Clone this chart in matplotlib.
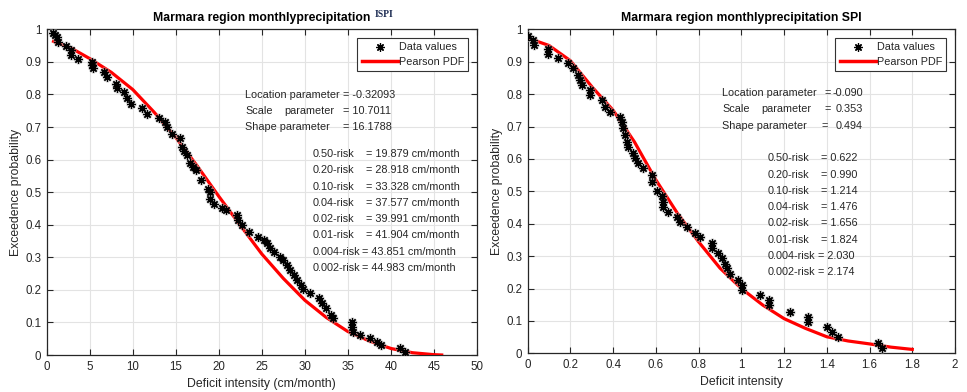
import matplotlib
matplotlib.use("Agg")
import matplotlib.pyplot as plt
from matplotlib.lines import Line2D

# ---------------- data: left panel (ISPI) ----------------
ispi_x = [0.78, 1.0, 1.24, 1.3, 2.2, 2.8, 2.86, 3.6, 5.3, 5.3, 5.35, 6.65, 7.04, 8.0, 8.2,
          8.97, 9.36, 9.8, 11.1, 11.7, 13.1, 13.8, 14.0, 14.6, 15.5, 15.7, 16.0, 16.3, 16.7,
          17.0, 17.3, 17.9, 18.8, 19.0, 19.0, 19.4, 20.4, 20.8, 22.1, 22.2, 22.7, 23.5, 24.6,
          25.2, 25.6, 26.0, 26.4, 27.1, 27.5, 27.9, 28.3, 28.7, 29.1, 29.5, 29.8, 30.6, 31.6,
          32.0, 32.4, 33.0, 33.3, 35.5, 35.5, 35.6, 36.4, 37.6, 38.4, 38.9, 41.1, 41.6]
ispi_y = [0.99, 0.984, 0.976, 0.96, 0.95, 0.935, 0.922, 0.91, 0.90, 0.89, 0.88, 0.87, 0.854,
          0.833, 0.82, 0.807, 0.79, 0.772, 0.757, 0.741, 0.729, 0.716, 0.70, 0.68, 0.665, 0.64,
          0.627, 0.613, 0.588, 0.578, 0.567, 0.537, 0.511, 0.501, 0.48, 0.465, 0.45, 0.445,
          0.429, 0.414, 0.399, 0.378, 0.363, 0.353, 0.343, 0.327, 0.317, 0.302, 0.291, 0.276,
          0.261, 0.245, 0.23, 0.215, 0.204, 0.189, 0.174, 0.159, 0.143, 0.123, 0.113, 0.102,
          0.087, 0.072, 0.061, 0.051, 0.041, 0.031, 0.02, 0.01]
ispi_fit_x = [0.8, 3, 5, 7.5, 10, 12.5, 15, 17.5, 20, 22.5, 25, 27.5, 30, 32.5, 35, 37.5, 40,
              42.5, 45, 45.9]
ispi_fit_y = [0.963, 0.94, 0.91, 0.868, 0.815, 0.745, 0.668, 0.58, 0.487, 0.398, 0.31, 0.235,
              0.168, 0.115, 0.072, 0.043, 0.02, 0.007, 0.001, 0.0]

# ---------------- data: right panel (SPI) ----------------
spi_x = [0.0, 0.027, 0.031, 0.096, 0.096, 0.143, 0.19, 0.213, 0.237, 0.245, 0.253, 0.29, 0.29,
         0.346, 0.362, 0.385, 0.432, 0.44, 0.448, 0.455, 0.463, 0.471, 0.494, 0.502, 0.518,
         0.541, 0.58, 0.58, 0.604, 0.627, 0.632, 0.635, 0.658, 0.697, 0.713, 0.744, 0.783,
         0.807, 0.861, 0.861, 0.892, 0.908, 0.924, 0.932, 0.947, 0.986, 1.002, 1.002, 1.088,
         1.131, 1.131, 1.228, 1.314, 1.314, 1.403, 1.423, 1.454, 1.641, 1.657]
spi_y = [0.98, 0.966, 0.953, 0.94, 0.925, 0.91, 0.895, 0.88, 0.859, 0.844, 0.828, 0.812, 0.797,
         0.782, 0.761, 0.746, 0.73, 0.715, 0.694, 0.674, 0.653, 0.638, 0.617, 0.602, 0.586,
         0.571, 0.55, 0.53, 0.501, 0.484, 0.468, 0.452, 0.437, 0.421, 0.405, 0.39, 0.372, 0.36,
         0.34, 0.324, 0.309, 0.293, 0.277, 0.262, 0.246, 0.225, 0.21, 0.195, 0.179, 0.164,
         0.148, 0.127, 0.113, 0.097, 0.082, 0.067, 0.05, 0.033, 0.015]
spi_fit_x = [0.0, 0.1, 0.2, 0.3, 0.4, 0.5, 0.6, 0.7, 0.8, 0.9, 1.0, 1.1, 1.2, 1.3, 1.4, 1.5,
             1.6, 1.7, 1.8]
spi_fit_y = [0.973, 0.95, 0.903, 0.823, 0.75, 0.652, 0.535, 0.433, 0.344, 0.263, 0.2, 0.149,
             0.107, 0.077, 0.051, 0.038, 0.029, 0.019, 0.012]

# ---------------- text ----------------
ispi_params = [("Location parameter", "-0.32093"), ("Scale", "10.7011"), ("Shape parameter", "16.1788")]
ispi_risks = [("0.50-risk", "19.879"), ("0.20-risk", "28.918"), ("0.10-risk", "33.328"),
              ("0.04-risk", "37.577"), ("0.02-risk", "39.991"), ("0.01-risk", "41.904"),
              ("0.004-risk", "43.851"), ("0.002-risk", "44.983")]
spi_params = [("Location parameter", "-0.090"), ("Scale", "0.353"), ("Shape parameter", "0.494")]
spi_risks = [("0.50-risk", "0.622"), ("0.20-risk", "0.990"), ("0.10-risk", "1.214"),
             ("0.04-risk", "1.476"), ("0.02-risk", "1.656"), ("0.01-risk", "1.824"),
             ("0.004-risk", "2.030"), ("0.002-risk", "2.174")]

W, H = 967, 392
fig = plt.figure(figsize=(W / 100, H / 100), dpi=100)
plt.rcParams['font.family'] = ['Liberation Sans', 'DejaVu Sans']

TC = '#262626'
FS = 8.3
FA = 7.8

def px(x, y):
    return x / W, 1 - y / H

def box(l, t, r, b):
    return [l / W, 1 - b / H, (r - l) / W, (b - t) / H]

ast = (8, 2, 0)

def style_axes(ax, xlim, xticks, xtl):
    ax.set_xlim(*xlim)
    ax.set_ylim(0, 1)
    ax.set_xticks(xticks)
    ax.set_xticklabels(xtl)
    ax.set_yticks([i / 10 for i in range(11)])
    ax.set_yticklabels(['0', '0.1', '0.2', '0.3', '0.4', '0.5', '0.6', '0.7', '0.8', '0.9', '1'])
    ax.grid(True, color='#e3e3e3', linewidth=0.8)
    ax.set_axisbelow(True)
    ax.tick_params(direction='in', top=True, right=True, length=4, width=0.8,
                   labelsize=FS, colors=TC, pad=4)
    for s in ax.spines.values():
        s.set_color(TC)
        s.set_linewidth(0.9)

def draw(ax, dx, dy, fx, fy):
    ax.plot(fx, fy, color='red', linewidth=2.3, zorder=3)
    ax.plot(dx, dy, linestyle='none', marker=ast, markersize=7, markeredgewidth=2.0,
            markeredgecolor='#b0b0b0', alpha=0.45, zorder=4)
    ax.plot(dx, dy, linestyle='none', marker=ast, markersize=6, markeredgewidth=0.9,
            markeredgecolor='black', zorder=5)
    h1 = Line2D([], [], linestyle='none', marker=ast, markersize=6, markeredgewidth=0.9,
                markeredgecolor='black')
    h2 = Line2D([], [], color='red', linewidth=2.5)
    leg = ax.legend([h1, h2], ['Data values', 'Pearson PDF'], loc='upper right',
                    fontsize=FA, frameon=True, fancybox=False, framealpha=1,
                    edgecolor='#333333', handlelength=3.3, handletextpad=0.1,
                    borderpad=0.4, labelspacing=0.4, borderaxespad=0.8)
    leg.get_frame().set_linewidth(0.8)
    for t in leg.get_texts():
        t.set_color(TC)

# ---------------- left panel ----------------
ax1 = fig.add_axes(box(46.7, 29.3, 477, 355))
style_axes(ax1, (0, 50), list(range(0, 51, 5)), [str(v) for v in range(0, 51, 5)])
draw(ax1, ispi_x, ispi_y, ispi_fit_x, ispi_fit_y)
ax1.set_xlabel('Deficit intensity (cm/month)', fontsize=FS + 0.5, color=TC, labelpad=4)
ax1.set_ylabel('Exceedence probability', fontsize=FS + 0.5, color=TC, labelpad=2)
fig.text(*px(262, 17.7), 'Marmara region monthlyprecipitation', ha='center', va='center',
         fontsize=FS + 0.5, fontweight='bold', color='black')
fig.text(*px(375, 14.5), 'ISPI', ha='left', va='center', fontsize=7,
         fontweight='bold', family=['Liberation Serif', 'DejaVu Serif'], color='#1c2b52')

# parameters
for i, (lab, val) in enumerate(ispi_params):
    y = 95 + i * 16.2
    if lab == 'Scale':
        fig.text(*px(245, y), 'Scale', va='center', fontsize=FA, color=TC)
        fig.text(*px(284, y), 'parameter', va='center', fontsize=FA, color=TC)
    else:
        fig.text(*px(245, y), lab, va='center', fontsize=FA, color=TC)
    fig.text(*px(343, y), '= ' + val, va='center', fontsize=FA, color=TC)
for i, (lab, val) in enumerate(ispi_risks):
    y = 154 + i * 16.3
    fig.text(*px(313, y), lab, va='center', fontsize=FA, color=TC)
    xe = 362.5 if lab.startswith('0.00') else 366.5
    fig.text(*px(xe, y), '= ' + val + ' cm/month', va='center', fontsize=FA, color=TC)

# ---------------- right panel ----------------
ax2 = fig.add_axes(box(527.7, 29.3, 955, 353.3))
xt = [round(0.2 * i, 1) for i in range(11)]
style_axes(ax2, (0, 2), xt, ['0', '0.2', '0.4', '0.6', '0.8', '1', '1.2', '1.4', '1.6', '1.8', '2'])
draw(ax2, spi_x, spi_y, spi_fit_x, spi_fit_y)
ax2.set_xlabel('Deficit intensity', fontsize=FS + 0.5, color=TC, labelpad=4)
ax2.set_ylabel('Exceedence probability', fontsize=FS + 0.5, color=TC, labelpad=2)
ax2.set_title('Marmara region monthlyprecipitation SPI', fontsize=FS + 0.5,
              fontweight='bold', color='black', pad=6)

for i, (lab, val) in enumerate(spi_params):
    y = 93.3 + i * 16.2
    if lab == 'Scale':
        fig.text(*px(722.3, y), 'Scale', va='center', fontsize=FA, color=TC)
        fig.text(*px(761.7, y), 'parameter', va='center', fontsize=FA, color=TC)
    else:
        fig.text(*px(722.3, y), lab, va='center', fontsize=FA, color=TC)
    xe = 821.5 if lab.startswith('Shape') else 824
    fig.text(*px(xe, y), '=', va='center', fontsize=FA, color=TC)
    fig.text(*px(863, y), val, va='center', ha='right', fontsize=FA, color=TC)
for i, (lab, val) in enumerate(spi_risks):
    y = 158.3 + i * 16.3
    fig.text(*px(767.3, y), lab, va='center', fontsize=FA, color=TC)
    xe = 818.3 if lab.startswith('0.00') else 820.7
    fig.text(*px(xe, y), '= ' + val, va='center', fontsize=FA, color=TC)

fig.savefig('out.png', dpi=100)
